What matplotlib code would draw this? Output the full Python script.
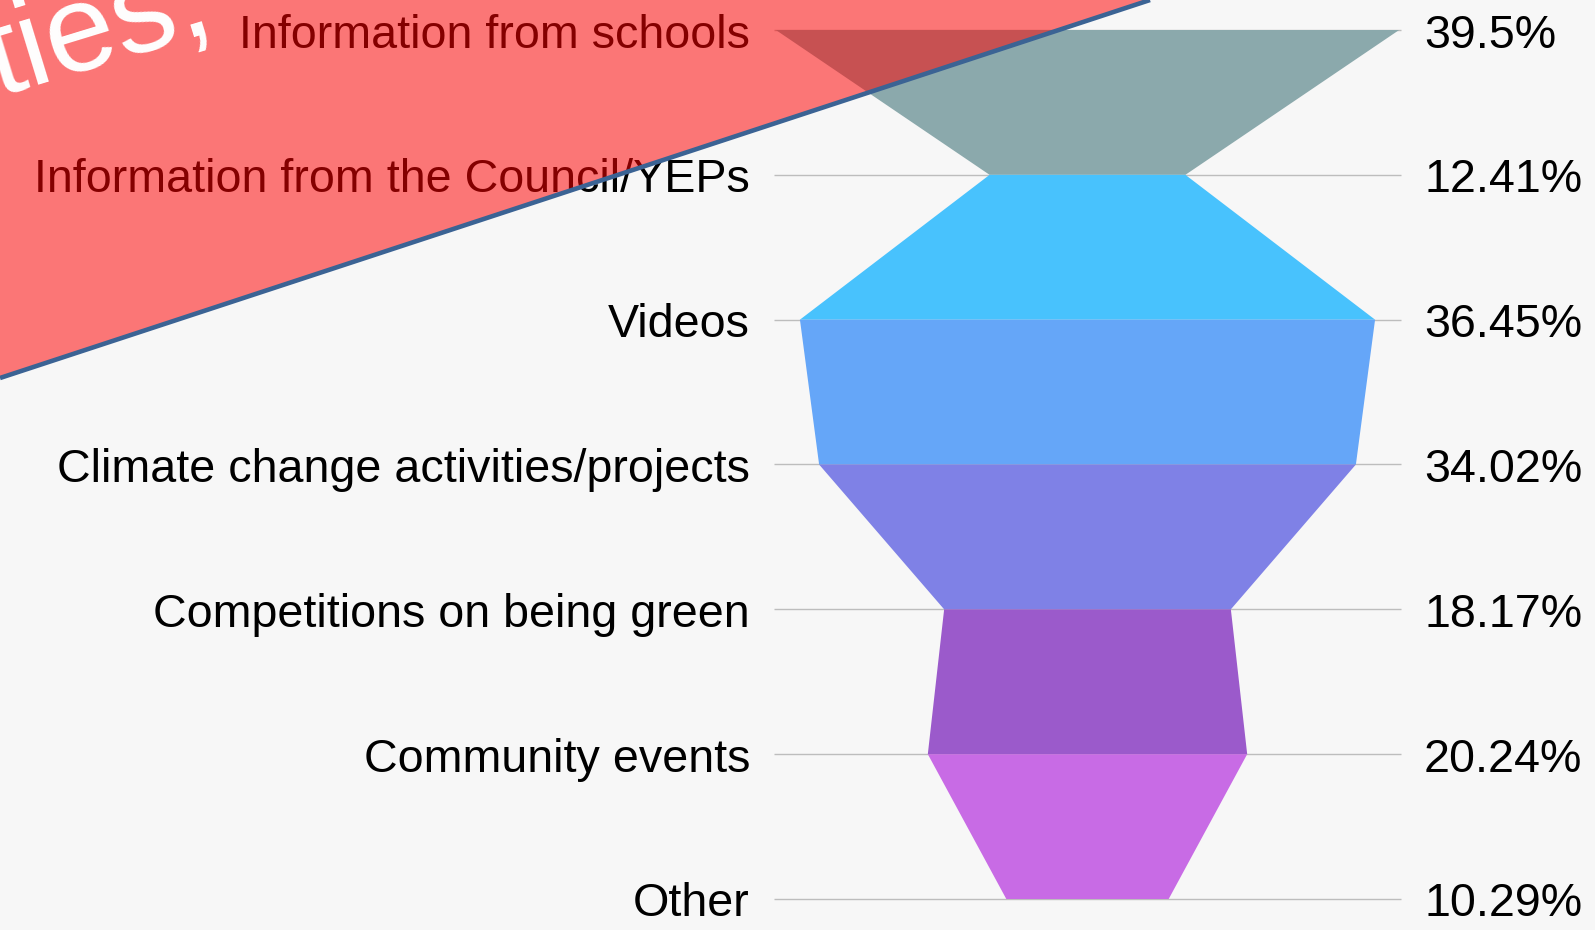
import numpy as np
import matplotlib
matplotlib.use("Agg")
import matplotlib.pyplot as plt

plt.rcParams["font.family"] = ["Liberation Sans", "DejaVu Sans"]

# funnel data, top to bottom
categories = [
    "Information from schools",
    "Information from the Council/YEPs",
    "Videos",
    "Climate change activities/projects",
    "Competitions on being green",
    "Community events",
    "Other",
]
values = [39.5, 12.41, 36.45, 34.02, 18.17, 20.24, 10.29]
value_labels = ["39.5%", "12.41%", "36.45%", "34.02%", "18.17%", "20.24%", "10.29%"]
band_colors = ["#8ba9ac", "#48c2fd", "#65a6f8", "#7f81e6", "#9b5acb", "#c86be5"]

# banner decoration in the corner (text partly off-canvas)
banner_text = "ties,"

W, H, DPI = 1595, 930, 100
BG = "#f7f7f7"

fig = plt.figure(figsize=(W / DPI, H / DPI), dpi=DPI, facecolor=BG)

# main funnel axes: spans the gridlines
left_px, right_px, top_px, bot_px = 774, 1401, 30, 899
ax = fig.add_axes([left_px / W, 1 - bot_px / H, (right_px - left_px) / W, (bot_px - top_px) / H])
ax.set_facecolor(BG)
n = len(values)
half = max(values) / 2 * 1.006
ax.set_xlim(-half, half)
ax.set_ylim(n - 1, 0)
ax.axis("off")

ax.hlines(range(n), -half, half, color="#bdbdbd", lw=1.0, zorder=0, clip_on=False)

for i in range(n - 1):
    xs = [-values[i] / 2, values[i] / 2, values[i + 1] / 2, -values[i + 1] / 2]
    ys = [i, i, i + 1, i + 1]
    ax.fill(xs, ys, color=band_colors[i], lw=0, zorder=2)

fs = 33.6
for i, (cat, lab) in enumerate(zip(categories, value_labels)):
    ax.annotate(cat, xy=(0, i), xycoords=("axes fraction", "data"),
                xytext=(-17.3, -12.6), textcoords="offset points",
                ha="right", va="baseline", fontsize=fs, color="black", zorder=3)
    ax.annotate(lab, xy=(1, i), xycoords=("axes fraction", "data"),
                xytext=(16.6, -12.6), textcoords="offset points",
                ha="left", va="baseline", fontsize=fs, color="black", zorder=3)

# overlay layer in pixel coordinates
ov = fig.add_axes([0, 0, 1, 1], zorder=5)
ov.set_xlim(0, W)
ov.set_ylim(H, 0)
ov.axis("off")

line_x0, line_y0 = 0, 378
line_x1, line_y1 = 1150, 0
ov.fill([0, line_x1, line_x0], [0, line_y1, line_y0], color="#ff0000", alpha=0.52, lw=0)

ov.text(-3, 97, banner_text, rotation=17, rotation_mode="anchor",
        ha="left", va="baseline", fontsize=90, color="white")

ov.plot([line_x0, line_x1], [line_y0, line_y1], color="#3b6394", lw=3.3,
        solid_capstyle="butt")

fig.savefig("out.png", dpi=DPI, facecolor=BG)
